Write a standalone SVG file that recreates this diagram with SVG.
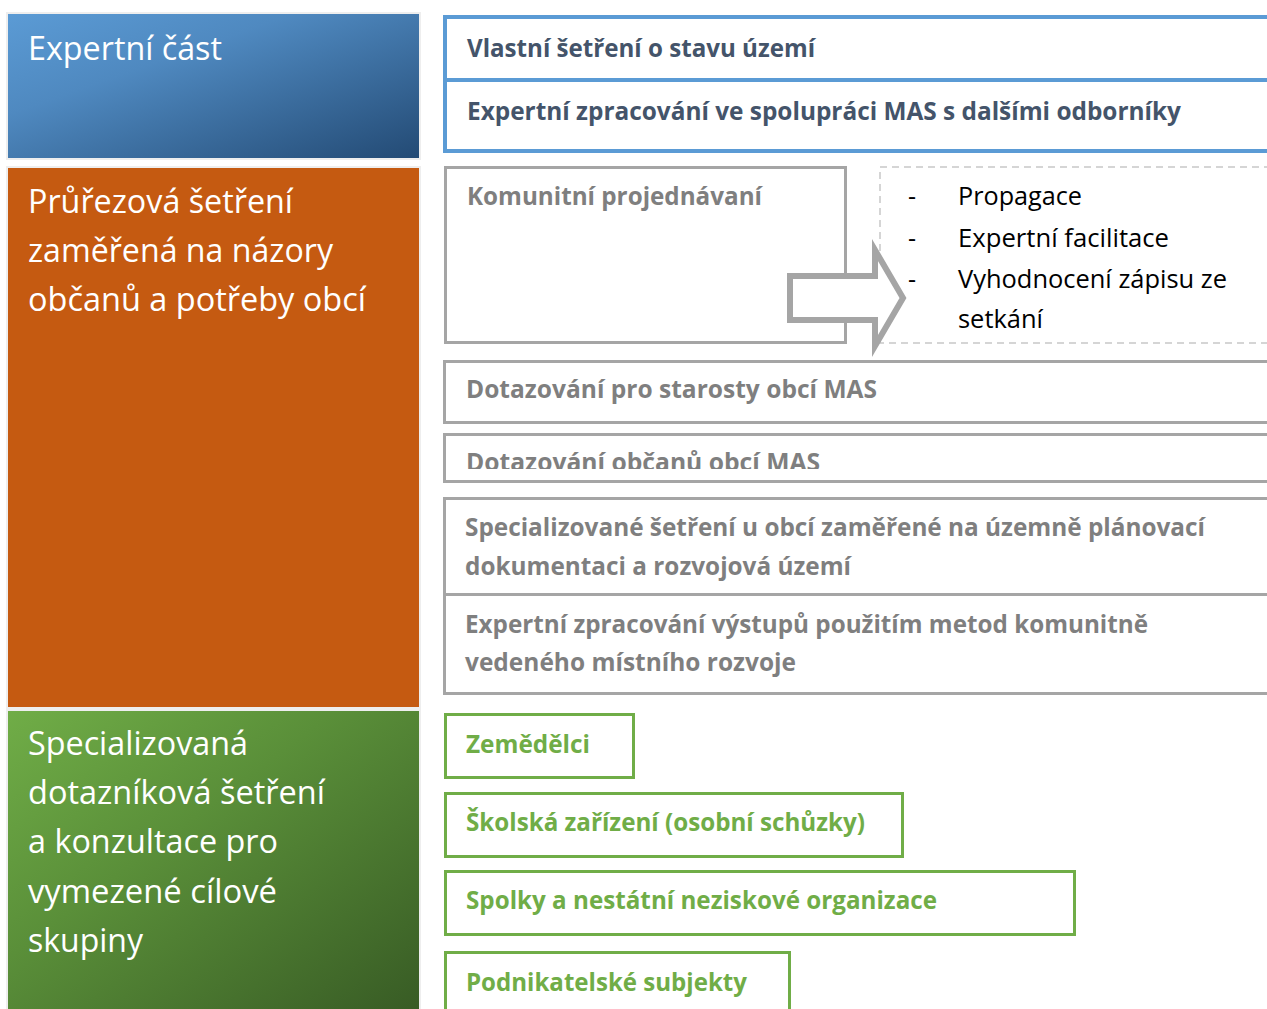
<svg xmlns="http://www.w3.org/2000/svg" width="1267" height="1009" viewBox="0 0 1267 1009">
<defs>
<linearGradient id="gBlue" x1="0" y1="0" x2="1" y2="1">
<stop offset="0" stop-color="#5B9BD5"/>
<stop offset="0.35" stop-color="#4F89C0"/>
<stop offset="1" stop-color="#234A74"/>
</linearGradient>
<linearGradient id="gGreen" x1="0" y1="0" x2="1" y2="1">
<stop offset="0" stop-color="#70AD47"/>
<stop offset="0.4" stop-color="#5A8F39"/>
<stop offset="1" stop-color="#375A24"/>
</linearGradient>
<clipPath id="clipObc"><rect x="440" y="430" width="827" height="39"/></clipPath>
</defs>
<style>
.lbox{stroke:#EEEEEE;stroke-width:2}
.ltxt{font-family:"Open Sans","Noto Sans",sans-serif;font-size:33px;fill:#FFFFFF}
.bbox{fill:#FFFFFF;stroke:#5B9BD5;stroke-width:4}
.gbox{fill:#FFFFFF;stroke:#A5A5A5;stroke-width:3}
.grbox{fill:#FFFFFF;stroke:#70AD47;stroke-width:3}
.t{font-family:"Open Sans","Noto Sans",sans-serif;font-size:25px;font-weight:bold}
.tb{fill:#44546A}
.tg{fill:#7F7F7F}
.tgr{fill:#70AD47}
.li{font-family:"Open Sans","Noto Sans",sans-serif;font-size:25px;fill:#000000}
</style>
<rect width="1267" height="1009" fill="#FFFFFF"/>

<g id="expertni-cast">
<rect class="lbox" x="7" y="13" width="413" height="146" fill="url(#gBlue)"/>
<text class="ltxt" x="28" y="60" textLength="194" lengthAdjust="spacingAndGlyphs">Expertní část</text>
</g>

<g id="prurezova-setreni">
<rect class="lbox" x="7" y="167" width="413" height="541" fill="#C55A11"/>
<text class="ltxt" x="28" y="213" textLength="265" lengthAdjust="spacingAndGlyphs">Průřezová šetření</text>
<text class="ltxt" x="28" y="262" textLength="305" lengthAdjust="spacingAndGlyphs">zaměřená na názory</text>
<text class="ltxt" x="28" y="311" textLength="338" lengthAdjust="spacingAndGlyphs">občanů a potřeby obcí</text>
</g>

<g id="specializovana-setreni">
<rect class="lbox" x="7" y="710" width="413" height="310" fill="url(#gGreen)"/>
<text class="ltxt" x="28" y="755" textLength="220" lengthAdjust="spacingAndGlyphs">Specializovaná</text>
<text class="ltxt" x="28" y="804" textLength="297" lengthAdjust="spacingAndGlyphs">dotazníková šetření</text>
<text class="ltxt" x="28" y="853" textLength="250" lengthAdjust="spacingAndGlyphs">a konzultace pro</text>
<text class="ltxt" x="28" y="903" textLength="249" lengthAdjust="spacingAndGlyphs">vymezené cílové</text>
<text class="ltxt" x="28" y="952" textLength="115" lengthAdjust="spacingAndGlyphs">skupiny</text>
</g>

<g id="vlastni-setreni">
<rect class="bbox" x="445" y="17" width="900" height="63"/>
<text class="t tb" x="467" y="57" textLength="348" lengthAdjust="spacingAndGlyphs">Vlastní šetření o stavu území</text>
</g>

<g id="expertni-zpracovani">
<rect class="bbox" x="445" y="80" width="900" height="71"/>
<text class="t tb" x="467" y="120" textLength="714" lengthAdjust="spacingAndGlyphs">Expertní zpracování ve spolupráci MAS s dalšími odborníky</text>
</g>

<g id="komunitni-projednavani">
<rect class="gbox" x="445.5" y="167.5" width="400" height="175"/>
<text class="t tg" x="467" y="205" textLength="295" lengthAdjust="spacingAndGlyphs">Komunitní projednávaní</text>
</g>

<g id="komunitni-kroky">
<rect x="880" y="167" width="460" height="176" fill="none" stroke="#C8C8C8" stroke-width="1.5" stroke-dasharray="7 5"/>
<text class="li" x="908" y="205">-</text>
<text class="li" x="958" y="205" textLength="124" lengthAdjust="spacingAndGlyphs">Propagace</text>
<text class="li" x="908" y="247">-</text>
<text class="li" x="958" y="247" textLength="211" lengthAdjust="spacingAndGlyphs">Expertní facilitace</text>
<text class="li" x="908" y="288">-</text>
<text class="li" x="958" y="288" textLength="269" lengthAdjust="spacingAndGlyphs">Vyhodnocení zápisu ze</text>
<text class="li" x="958" y="328" textLength="85" lengthAdjust="spacingAndGlyphs">setkání</text>
</g>

<g id="dotazovani-starosty">
<rect class="gbox" x="444.5" y="361.5" width="900" height="61"/>
<text class="t tg" x="466" y="398" textLength="411" lengthAdjust="spacingAndGlyphs">Dotazování pro starosty obcí MAS</text>
</g>

<g id="dotazovani-obcanu">
<rect class="gbox" x="444.5" y="434.5" width="900" height="47"/>
<text class="t tg" x="466" y="471" textLength="354" lengthAdjust="spacingAndGlyphs" clip-path="url(#clipObc)">Dotazování občanů obcí MAS</text>
</g>

<g id="specializovane-setreni">
<rect class="gbox" x="444.5" y="498.5" width="900" height="96"/>
<text class="t tg" x="465" y="536" textLength="740" lengthAdjust="spacingAndGlyphs">Specializované šetření u obcí zaměřené na územně plánovací</text>
<text class="t tg" x="465" y="575" textLength="386" lengthAdjust="spacingAndGlyphs">dokumentaci a rozvojová území</text>
</g>

<g id="expertni-zpracovani-vystupu">
<rect class="gbox" x="444.5" y="594.5" width="900" height="99"/>
<text class="t tg" x="465" y="633" textLength="683" lengthAdjust="spacingAndGlyphs">Expertní zpracování výstupů použitím metod komunitně</text>
<text class="t tg" x="465" y="671" textLength="331" lengthAdjust="spacingAndGlyphs">vedeného místního rozvoje</text>
</g>

<g id="zemedelci">
<rect class="grbox" x="445.5" y="714.5" width="188" height="63"/>
<text class="t tgr" x="466" y="753" textLength="124" lengthAdjust="spacingAndGlyphs">Zemědělci</text>
</g>

<g id="skolska-zarizeni">
<rect class="grbox" x="445.5" y="793.5" width="457" height="63"/>
<text class="t tgr" x="466" y="831" textLength="399" lengthAdjust="spacingAndGlyphs">Školská zařízení (osobní schůzky)</text>
</g>

<g id="spolky">
<rect class="grbox" x="445.5" y="871.5" width="629" height="63"/>
<text class="t tgr" x="466" y="909" textLength="471" lengthAdjust="spacingAndGlyphs">Spolky a nestátní neziskové organizace</text>
</g>

<g id="podnikatelske-subjekty">
<rect class="grbox" x="445.5" y="952.5" width="344" height="70"/>
<text class="t tgr" x="466" y="991" textLength="281" lengthAdjust="spacingAndGlyphs">Podnikatelské subjekty</text>
</g>

<g id="connectors">
<path d="M790,276 L875,276 L875,250 L903,298 L875,346 L875,320 L790,320 Z" fill="#FFFFFF" stroke="#A5A5A5" stroke-width="6" stroke-linejoin="miter"/>
</g>
</svg>
